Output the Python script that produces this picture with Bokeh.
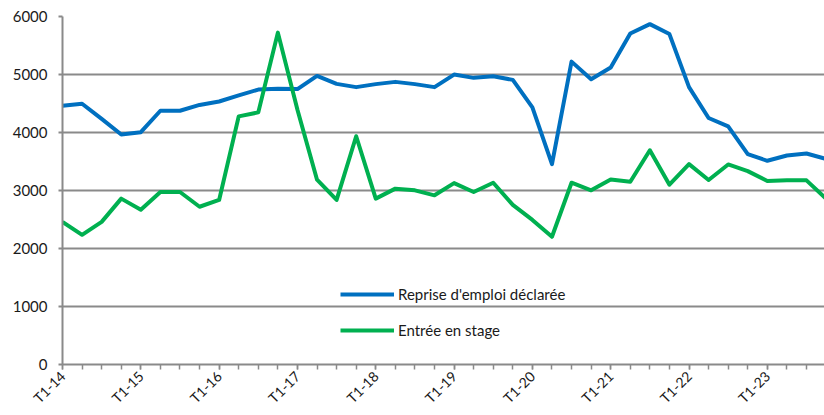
import math
from bokeh.plotting import figure
from bokeh.models import Range1d, FixedTicker, Legend, LegendItem, ColumnDataSource
from bokeh.embed import file_html
from bokeh.resources import INLINE

years = list(range(14, 25))
quarters = [f"T{q}-{y}" for y in years for q in (1, 2, 3, 4)][:41]

reprise = [4460, 4495, 4235, 3965, 4005, 4375, 4375, 4475, 4535, 4640,
           4740, 4753, 4748, 4976, 4838, 4782, 4834, 4873, 4834, 4782,
           4999, 4942, 4970, 4907, 4433, 3455, 5222, 4919, 5120, 5707,
           5868, 5697, 4782, 4250, 4106, 3626, 3512, 3603, 3638, 3545]

stage = [2459, 2236, 2459, 2860, 2670, 2974, 2974, 2720, 2837, 4278,
         4347, 5722, 4393, 3186, 2837, 3935, 2860, 3032, 3003, 2917,
         3128, 2974, 3134, 2751, 2493, 2202, 3134, 3003, 3191, 3152,
         3694, 3100, 3454, 3180, 3449, 3334, 3163, 3175, 3175, 2860]

series_names = ["Reprise d'emploi déclarée", "Entrée en stage"]
y_ticks = [0, 1000, 2000, 3000, 4000, 5000, 6000]

FONT = "Lato"
GRAY = "#8a8a8a"
TXT = "#1a1a1a"

p = figure(width=824, height=415, output_backend="svg", toolbar_location=None,
           x_range=Range1d(0, 38.92), y_range=Range1d(0, 6000),
           min_border_left=62, min_border_top=16, min_border_bottom=49, min_border_right=0)
p.outline_line_color = None
p.background_fill_color = "white"

src = ColumnDataSource(dict(x=list(range(len(reprise))), r=reprise, s=stage))
r1 = p.line("x", "r", source=src, line_color="#0070C0", line_width=4, line_join="round")
r2 = p.line("x", "s", source=src, line_color="#00B050", line_width=4, line_join="round")

# x axis
major = [i for i in range(len(quarters)) if quarters[i].startswith("T1")]
p.xaxis.ticker = FixedTicker(ticks=major, minor_ticks=list(range(len(quarters))))
p.xaxis.major_label_overrides = {i: quarters[i] for i in major}
p.xaxis.major_label_orientation = math.pi / 4
p.xaxis.major_tick_out = 5
p.xaxis.major_tick_in = 0
p.xaxis.minor_tick_out = 5
p.xaxis.minor_tick_in = 0
p.xaxis.major_tick_line_color = GRAY
p.xaxis.minor_tick_line_color = GRAY
p.xaxis.major_tick_line_width = 1.5
p.xaxis.minor_tick_line_width = 1.5
p.xaxis.axis_line_color = GRAY
p.xaxis.axis_line_width = 2
p.xaxis.major_label_text_font = FONT
p.xaxis.major_label_text_font_size = "14px"
p.xaxis.major_label_text_color = TXT
p.xaxis.major_label_standoff = 4
p.xgrid.grid_line_color = None

# y axis
p.yaxis.ticker = FixedTicker(ticks=y_ticks)
p.yaxis.major_tick_out = 4
p.yaxis.major_tick_in = 0
p.yaxis.minor_tick_line_color = None
p.yaxis.major_tick_line_color = GRAY
p.yaxis.major_tick_line_width = 2
p.yaxis.axis_line_color = GRAY
p.yaxis.axis_line_width = 2
p.yaxis.major_label_text_font = FONT
p.yaxis.major_label_text_font_size = "15px"
p.yaxis.major_label_text_color = TXT
p.yaxis.major_label_standoff = 11
p.ygrid.grid_line_color = GRAY
p.ygrid.grid_line_width = 2
p.ygrid.ticker = FixedTicker(ticks=y_ticks)

legend = Legend(items=[LegendItem(label=series_names[0], renderers=[r1]),
                       LegendItem(label=series_names[1], renderers=[r2])],
                location=(278, 24), orientation="vertical",
                background_fill_alpha=0, border_line_alpha=0,
                padding=0, margin=0, spacing=16,
                glyph_width=54, glyph_height=20, label_height=20, label_standoff=4,
                label_text_font=FONT, label_text_font_size="15px", label_text_color=TXT)
p.add_layout(legend, "center")

open("out.html", "w").write(file_html(p, INLINE))
